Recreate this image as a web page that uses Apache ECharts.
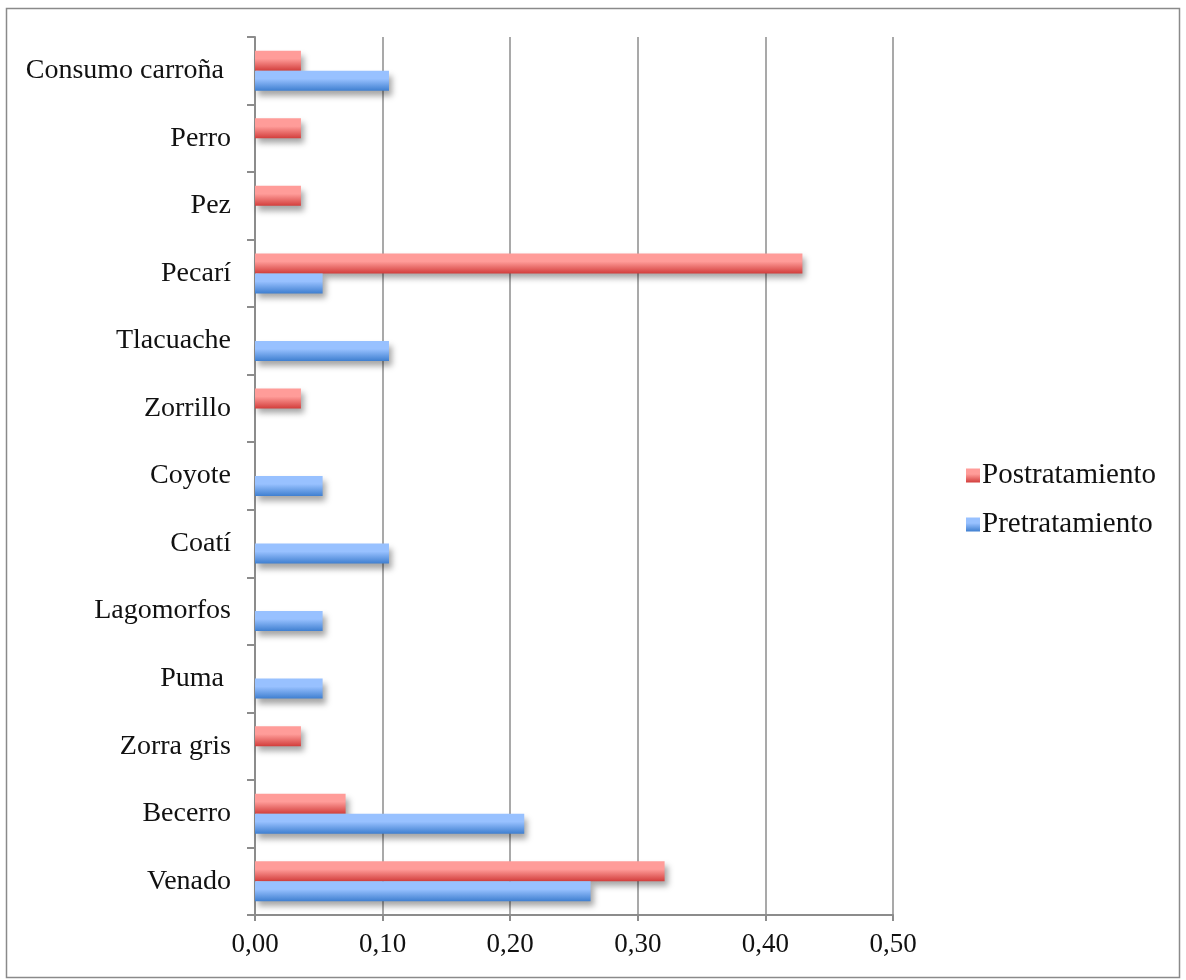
<!DOCTYPE html>
<html>
<head>
<meta charset="utf-8">
<script src="https://cdn.jsdelivr.net/npm/echarts@6/dist/echarts.min.js"></script>
<style>
  html, body { margin: 0; padding: 0; background: #fff; }
  #chart { width: 1186px; height: 980px; }
</style>
</head>
<body>
<div id="chart"></div>
<script>
// Prey categories, listed from the bottom of the axis upward
const categories = ['Venado', 'Becerro', 'Zorra gris', 'Puma ', 'Lagomorfos', 'Coatí', 'Coyote',
  'Zorrillo', 'Tlacuache', 'Pecarí', 'Pez', 'Perro', 'Consumo carroña '];

// Relative frequency per category (0 = absent)
const pretratamiento = [0.263, 0.211, 0, 0.053, 0.053, 0.105, 0.053, 0, 0.105, 0.053, 0, 0, 0.105];
const postratamiento = [0.321, 0.071, 0.036, 0, 0, 0, 0, 0.036, 0, 0.429, 0.036, 0.036, 0.036];

const xTicks = { min: 0, max: 0.5, step: 0.1 };

const FONT = '"Liberation Serif", "DejaVu Serif", serif';
const GRID_GRAY = '#8c8c8c';

function grad(top, bottom) {
  return new echarts.graphic.LinearGradient(0, 0, 0, 1, [
    { offset: 0, color: top },
    { offset: 0.4, color: top },
    { offset: 1, color: bottom }
  ]);
}
const redFill = grad('#ff9c99', '#d23e3c');
const blueFill = grad('#98c1ff', '#3f7fd0');

const barShadow = {
  shadowColor: 'rgba(0,0,0,0.35)',
  shadowBlur: 6,
  shadowOffsetX: 3,
  shadowOffsetY: 5
};

const chart = echarts.init(document.getElementById('chart'), null, { renderer: 'canvas' });

chart.setOption({
  animation: false,
  backgroundColor: '#ffffff',
  textStyle: { fontFamily: FONT },
  graphic: [{
    type: 'rect',
    shape: { x: 6.5, y: 8.5, width: 1173, height: 969 },
    style: { fill: 'none', stroke: '#8a8a8a', lineWidth: 1.5 },
    z: -1
  }],
  grid: { left: 255, right: 293, top: 37, bottom: 65, containLabel: false },
  legend: {
    orient: 'vertical',
    left: 961,
    top: 456,
    icon: 'rect',
    itemWidth: 14,
    itemHeight: 14,
    itemGap: 20,
    textStyle: { fontFamily: FONT, fontSize: 29, color: '#111', lineHeight: 28, padding: [0, 0, 0, -3] },
    data: [
      { name: 'Postratamiento', itemStyle: { color: redFill } },
      { name: 'Pretratamiento', itemStyle: { color: blueFill } }
    ]
  },
  xAxis: {
    type: 'value',
    min: xTicks.min,
    max: xTicks.max,
    interval: xTicks.step,
    axisLine: { show: true, lineStyle: { color: GRID_GRAY, width: 2 } },
    axisTick: { show: true, length: 6, lineStyle: { color: GRID_GRAY, width: 2 } },
    splitLine: { show: true, lineStyle: { color: GRID_GRAY, width: 1.5 } },
    axisLabel: {
      fontFamily: FONT, fontSize: 27, color: '#111', margin: 16,
      formatter: v => v.toFixed(2).replace('.', ',')
    }
  },
  yAxis: {
    type: 'category',
    data: categories,
    axisLine: { show: true, lineStyle: { color: GRID_GRAY, width: 2 } },
    axisTick: { show: true, length: 8, lineStyle: { color: GRID_GRAY, width: 2 } },
    axisLabel: { fontFamily: FONT, fontSize: 28, color: '#111', margin: 24, lineHeight: 36, verticalAlign: 'middle', padding: [8, 0, 0, 0] }
  },
  series: [
    {
      name: 'Postratamiento',
      type: 'bar',
      data: postratamiento,
      barWidth: 20,
      barGap: '0%',
      barCategoryGap: '40%',
      itemStyle: Object.assign({ color: redFill }, barShadow)
    },
    {
      name: 'Pretratamiento',
      type: 'bar',
      data: pretratamiento,
      barWidth: 20,
      barGap: '0%',
      barCategoryGap: '40%',
      itemStyle: Object.assign({ color: blueFill }, barShadow)
    }
  ]
});
</script>
</body>
</html>
